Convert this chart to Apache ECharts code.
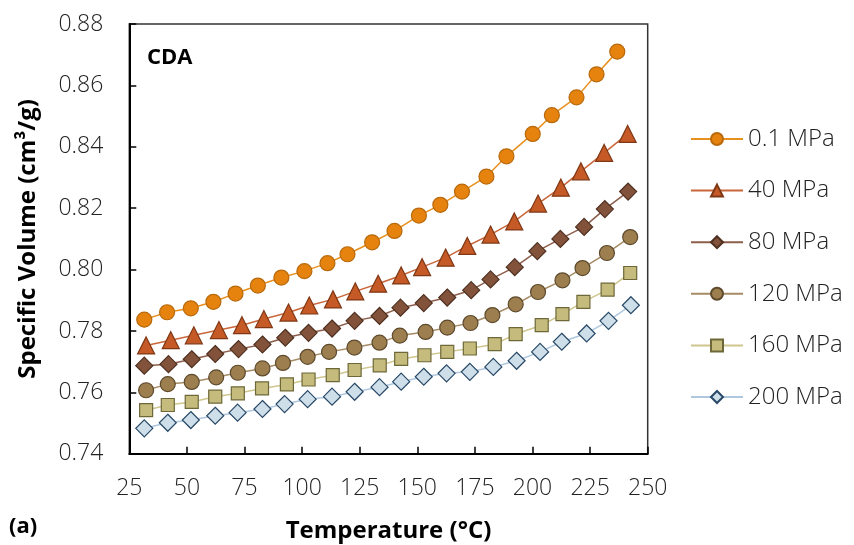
<!DOCTYPE html>
<html>
<head>
<meta charset="utf-8">
<script src="https://cdn.jsdelivr.net/npm/echarts@6/dist/echarts.min.js"></script>
<style>
html,body{margin:0;padding:0;background:#fff;}
#chart{width:854px;height:545px;}
</style>
</head>
<body>
<div id="chart"></div>
<script>
// ---- Data ----
const seriesNames = ['0.1 MPa', '40 MPa', '80 MPa', '120 MPa', '160 MPa', '200 MPa'];

const temp01 = [31.5, 41.4, 51.7, 61.5, 71.1, 80.8, 91.0, 101.0, 111.0, 119.7, 130.4, 140.1, 150.7, 160.0, 169.4, 180.0, 188.7, 200.1, 208.4, 219.1, 227.8, 236.8];
const sv01   = [0.7837, 0.7861, 0.7874, 0.7895, 0.7922, 0.7948, 0.7974, 0.7995, 0.8021, 0.8050, 0.8089, 0.8126, 0.8176, 0.8211, 0.8254, 0.8303, 0.8369, 0.8442, 0.8503, 0.8561, 0.8636, 0.8710];

const temp40 = [32.3, 43.0, 53.0, 63.9, 73.9, 83.4, 94.1, 103.1, 113.4, 123.1, 133.0, 143.0, 152.1, 162.3, 171.7, 181.8, 192.1, 202.4, 212.3, 221.0, 231.1, 241.3];
const sv40   = [0.7753, 0.7770, 0.7786, 0.7803, 0.7819, 0.7839, 0.7860, 0.7883, 0.7903, 0.7929, 0.7954, 0.7981, 0.8008, 0.8039, 0.8077, 0.8114, 0.8157, 0.8215, 0.8267, 0.8320, 0.8380, 0.8442];

const temp80 = [31.5, 42.0, 52.1, 62.3, 72.4, 82.8, 92.7, 102.8, 113.0, 122.8, 133.6, 142.7, 152.8, 163.0, 173.4, 181.8, 192.3, 202.1, 212.1, 222.4, 231.4, 241.5];
const sv80   = [0.7687, 0.7692, 0.7708, 0.7725, 0.7741, 0.7756, 0.7778, 0.7794, 0.7808, 0.7833, 0.7849, 0.7876, 0.7891, 0.7909, 0.7933, 0.7968, 0.8008, 0.8060, 0.8100, 0.8139, 0.8197, 0.8254];

const temp120 = [32.3, 41.7, 52.1, 62.7, 72.1, 82.8, 91.7, 102.4, 111.7, 122.7, 133.6, 142.4, 153.6, 163.0, 173.1, 182.6, 192.7, 202.4, 213.0, 221.7, 232.3, 242.4];
const sv120   = [0.7607, 0.7627, 0.7634, 0.7649, 0.7664, 0.7678, 0.7696, 0.7716, 0.7732, 0.7746, 0.7762, 0.7785, 0.7797, 0.7811, 0.7826, 0.7852, 0.7887, 0.7927, 0.7965, 0.8005, 0.8054, 0.8106];

const temp160 = [32.3, 41.7, 52.1, 62.3, 72.1, 82.6, 93.4, 102.8, 113.3, 122.8, 133.7, 143.0, 153.1, 163.0, 172.8, 183.6, 192.7, 204.0, 213.0, 222.1, 232.6, 242.4];
const sv160   = [0.7542, 0.7559, 0.7569, 0.7586, 0.7597, 0.7613, 0.7626, 0.7642, 0.7656, 0.7673, 0.7688, 0.7709, 0.7721, 0.7732, 0.7743, 0.7757, 0.7790, 0.7819, 0.7855, 0.7895, 0.7935, 0.7989];

const temp200 = [31.5, 41.7, 51.7, 62.3, 72.0, 82.8, 92.4, 102.4, 113.0, 122.8, 133.6, 143.0, 152.8, 162.7, 172.8, 183.0, 193.1, 203.3, 212.7, 223.5, 233.0, 242.7];
const sv200   = [0.7483, 0.7501, 0.7510, 0.7524, 0.7534, 0.7546, 0.7562, 0.7578, 0.7586, 0.7602, 0.7617, 0.7635, 0.7651, 0.7662, 0.7667, 0.7683, 0.7703, 0.7732, 0.7765, 0.7792, 0.7833, 0.7884];

const xTicks = [25, 50, 75, 100, 125, 150, 175, 200, 225, 250];
const yTicks = [0.74, 0.76, 0.78, 0.80, 0.82, 0.84, 0.86, 0.88];

// ---- Styles ----
const FONT = '"Open Sans", "Liberation Sans", sans-serif';
const styles = [
  { symbol: 'circle',   size: 15, fill: '#E6830F', border: '#B8690C', line: '#E8901E' },
  { symbol: 'triangle', size: 17, fill: '#C55A26', border: '#7F3714', line: '#C9663A' },
  { symbol: 'diamond',  size: 17, fill: '#82533A', border: '#4E2F20', line: '#8C5E4B' },
  { symbol: 'circle',   size: 15, fill: '#9C7E4F', border: '#5E4A2C', line: '#A68C66' },
  { symbol: 'rect',     size: 13, fill: '#C5BB7C', border: '#6E6838', line: '#CFC68E' },
  { symbol: 'diamond',  size: 17, fill: '#CFDFEA', border: '#274866', line: '#AFC8E0' }
];
const temps = [temp01, temp40, temp80, temp120, temp160, temp200];
const vals  = [sv01, sv40, sv80, sv120, sv160, sv200];

const series = seriesNames.map((name, i) => ({
  name: name,
  type: 'line',
  data: temps[i].map((t, j) => [t, vals[i][j]]),
  symbol: styles[i].symbol,
  symbolSize: styles[i].size,
  showAllSymbol: true,
  lineStyle: { color: styles[i].line, width: 1.5 },
  itemStyle: { color: styles[i].fill, borderColor: styles[i].border, borderWidth: 1.2 },
  emphasis: { disabled: true },
  z: 2 + i
}));

const chart = echarts.init(document.getElementById('chart'), null, { renderer: 'canvas' });
chart.setOption({
  animation: false,
  backgroundColor: '#ffffff',
  grid: {
    left: 129.3, right: 206.3, top: 24, bottom: 91.2,
    containLabel: false,
    outerBoundsMode: 'none',
    show: true,
    borderColor: '#333333',
    borderWidth: 1.5,
    backgroundColor: 'transparent'
  },
  legend: {
    orient: 'vertical',
    left: 685,
    top: 122,
    padding: 5,
    itemWidth: 52,
    itemHeight: 15,
    itemGap: 27.6,
    data: seriesNames,
    textStyle: { fontFamily: FONT, fontSize: 24, fontWeight: 300, color: '#222', lineHeight: 24 }
  },
  xAxis: {
    type: 'value',
    min: xTicks[0],
    max: xTicks[xTicks.length - 1],
    interval: 25,
    name: 'Temperature (°C)',
    nameLocation: 'middle',
    nameGap: 65,
    nameTextStyle: { fontFamily: FONT, fontSize: 24, fontWeight: 'bold', color: '#000' },
    axisLine: { show: true, onZero: false, lineStyle: { color: '#000', width: 2 } },
    axisTick: { show: true, inside: true, length: 7, lineStyle: { color: '#000', width: 1.5 } },
    axisLabel: { fontFamily: FONT, fontSize: 23, fontWeight: 300, color: '#222', margin: 23 },
    splitLine: { show: false }
  },
  yAxis: {
    type: 'value',
    min: yTicks[0],
    max: yTicks[yTicks.length - 1],
    interval: 0.02,
    name: 'Specific Volume (cm³/g)',
    nameLocation: 'middle',
    nameGap: 89,
    nameTextStyle: { fontFamily: FONT, fontSize: 24, fontWeight: 'bold', color: '#000' },
    axisLine: { show: true, onZero: false, lineStyle: { color: '#000', width: 2 } },
    axisTick: { show: true, inside: true, length: 7, lineStyle: { color: '#000', width: 1.5 } },
    axisLabel: { fontFamily: FONT, fontSize: 23, fontWeight: 300, color: '#222', margin: 26,
                 formatter: v => v.toFixed(2) },
    splitLine: { show: false }
  },
  graphic: [
    { type: 'text', left: 147, top: 47, style: { text: 'CDA', fontFamily: FONT, fontSize: 22, fontWeight: 'bold', fill: '#000' } },
    { type: 'text', left: 9, top: 516, style: { text: '(a)', fontFamily: FONT, fontSize: 22, fontWeight: 'bold', fill: '#000' } }
  ],
  series: series
});
</script>
</body>
</html>
